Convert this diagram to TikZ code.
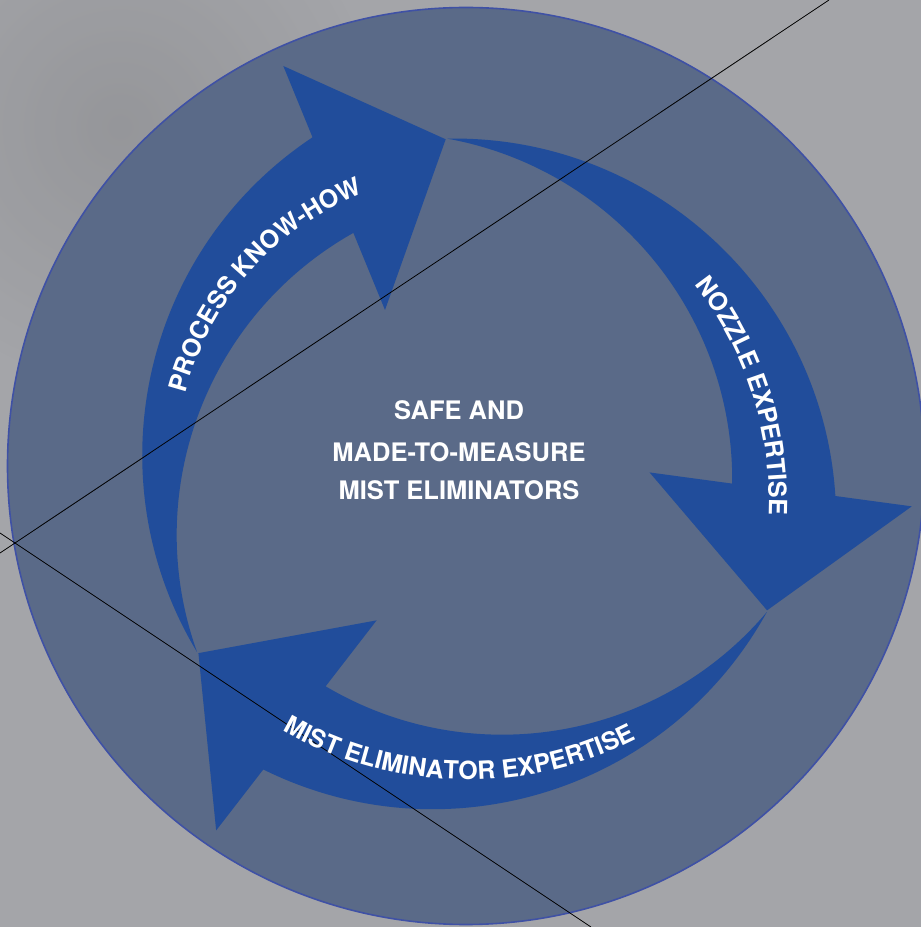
\documentclass[tikz,border=0pt]{standalone}
\usepackage{fontspec}
\setmainfont{TeX Gyre Heros}
\usetikzlibrary{decorations.text}
\definecolor{bggray}{HTML}{A4A5A9}
\definecolor{discfill}{HTML}{5A6A88}
\definecolor{discedge}{HTML}{3F51A5}
\definecolor{arrowblue}{HTML}{214D9B}
\newcommand\arrowlabelfont{\bfseries\fontsize{25}{30}\selectfont}
\newcommand\cyclearrowpath{(197,275) arc[start angle=211.06, end angle=123.64, radius=381.7pt]
  -- (283.3,861) -- (445.7,787.7) -- (385,617)
  -- ([shift={(523.4,392)}]119.37:346.7pt) arc[start angle=119.37, end angle=199.72, radius=346.7pt] -- cycle}
\begin{document}
\begin{tikzpicture}[x=1pt,y=1pt,
  arrowshape/.style={fill=arrowblue, draw=none},
  guideline/.style={draw=black, line width=0.8pt},
  centertext/.style={font=\bfseries\fontsize{25.5}{30}\selectfont, text=white, inner sep=0pt, anchor=base},
  ringlabel/.style={decorate, decoration={text along path, text={|\arrowlabelfont|#1}, text align=center, text color=white}}]
\useasboundingbox (0,0) rectangle (921,927);
\clip (0,0) rectangle (921,927);
\fill[bggray] (0,0) rectangle (921,927);
\shade[inner color=bggray!85!black, outer color=bggray, opacity=0.6] (120,800) circle[radius=260pt];
% disc
\coordinate (discc) at (466,461);
\fill[discfill] (discc) circle[radius=458.5pt];
\draw[discedge, line width=1.6pt] (discc) circle[radius=458.5pt];
% arrows
\fill[arrowshape] \cyclearrowpath;
\begin{scope}[rotate around={-120:(470.4,459.4)}]
  \fill[arrowshape] \cyclearrowpath;
\end{scope}
\begin{scope}[rotate around={120:(470.4,459.4)}]
  \fill[arrowshape] \cyclearrowpath;
\end{scope}
% guide lines
\coordinate (la) at (0,374);
\coordinate (lb) at (829,927);
\coordinate (lc) at (0,394);
\coordinate (ld) at (591,0);
\draw[guideline] (la) -- (lb);
\draw[guideline] (lc) -- (ld);
% curved labels
\path[ringlabel={PROCESS KNOW-HOW}] ([shift={(470.4,459.4)}]178.35:294.5pt) arc[start angle=178.35, end angle=98.35, radius=294.5pt];
\path[ringlabel={NOZZLE EXPERTISE}] ([shift={(420,427)}]57.85:349pt) arc[start angle=57.85, end angle=-22.15, radius=349pt];
\path[ringlabel={MIST ELIMINATOR EXPERTISE}] ([shift={(467.5,519.3)}]-141.4:372pt) arc[start angle=-141.4, end angle=-41.4, radius=372pt];
% centre text
\node[centertext] (l1) at (459,507) {SAFE AND};
\node[centertext] (l2) at (459,465.3) {MADE-TO-MEASURE};
\node[centertext] (l3) at (459,427) {MIST ELIMINATORS};
\end{tikzpicture}
\end{document}
